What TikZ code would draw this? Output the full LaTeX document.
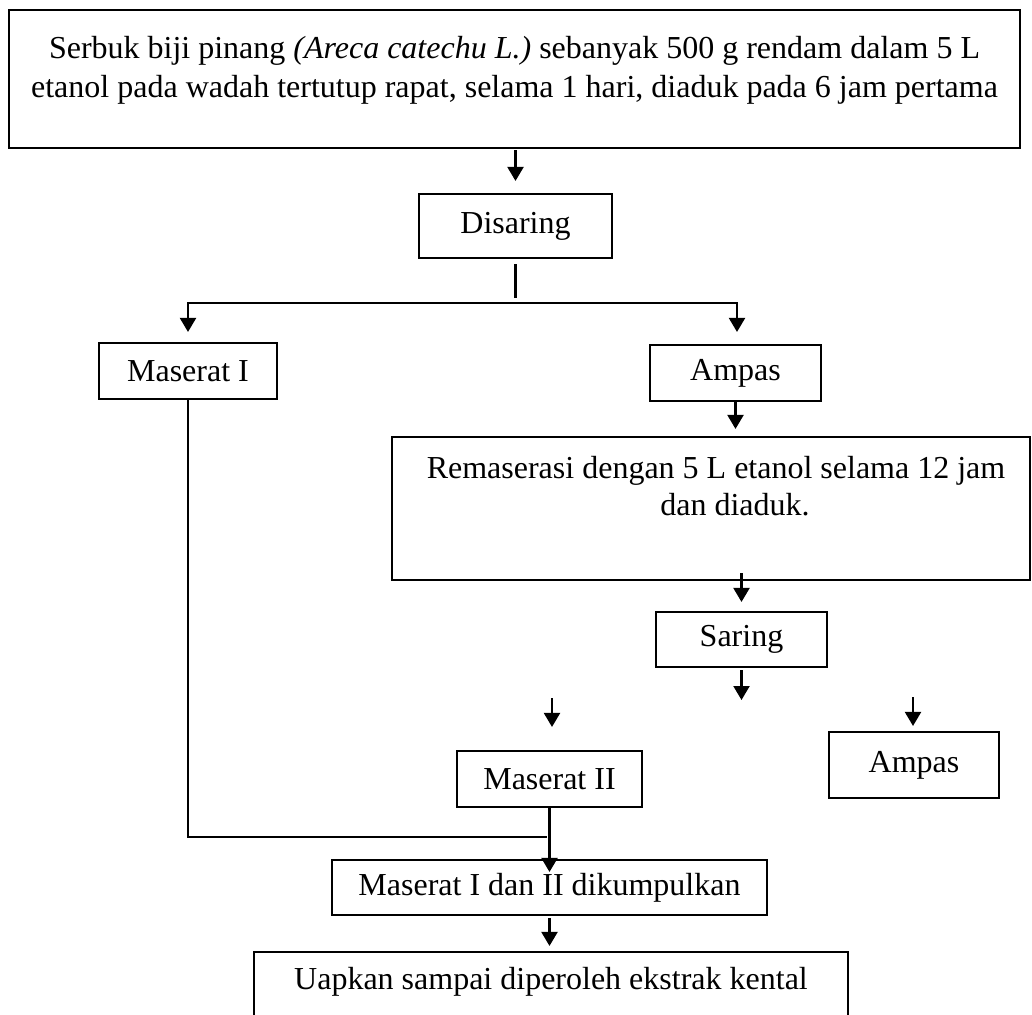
\documentclass[tikz,border=0pt]{standalone}
\usepackage{fontspec}
\setmainfont{Liberation Serif}
\usetikzlibrary{arrows.meta}
\begin{document}
\begin{tikzpicture}[x=1pt,y=-1pt,
  box/.style={draw, line width=2.1pt, rectangle, inner sep=0pt,
              font=\fontsize{32}{37}\selectfont, align=center},
  lbl/.style={font=\fontsize{32}{37}\selectfont, align=center, inner sep=0pt},
  ln/.style={line width=2.1pt},
  arr/.style={line width=2.1pt, -{Triangle[length=14pt,width=16pt]}}]
\useasboundingbox (0,0) rectangle (1032,1014);
\clip (0,0) rectangle (1032,1014);
\fill[white] (0,0) rectangle (1032,1014);

% boxes
\node[box, line width=2.6pt, minimum width=1011pt, minimum height=138pt] (top) at (514.5,79) {};
\node[lbl, font=\fontsize{32}{39}\selectfont] (toptxt) at (514.5,70) {Serbuk biji pinang \textit{(Areca catechu L.)} sebanyak 500 g rendam dalam 5 L\\etanol pada wadah tertutup rapat, selama 1 hari, diaduk pada 6 jam pertama};

\node[box, minimum width=193pt, minimum height=64pt] (dis) at (515.5,226) {Disaring};
\node[box, minimum width=178pt, minimum height=56pt] (m1) at (188,371) {Maserat I};
\node[box, minimum width=171pt, minimum height=56pt] (a1) at (735.5,373) {Ampas};

\node[box, minimum width=638pt, minimum height=143pt] (rem) at (711,508.5) {};
\node[lbl] (remtxt) at (716,486) {Remaserasi dengan 5 L etanol selama 12 jam\\\hspace*{38pt}dan diaduk.};

\node[box, minimum width=171pt, minimum height=55pt] (sar) at (741.5,639.5) {Saring};
\node[box, minimum width=170pt, minimum height=66pt] (a2) at (914,765) {Ampas};
\node[box, minimum width=185pt, minimum height=56pt] (m2) at (549.5,779) {Maserat II};
\node[box, minimum width=435pt, minimum height=55pt] (m12) at (549.5,887.5) {Maserat I dan II dikumpulkan};

\node[box, minimum width=594pt, minimum height=88pt] (up) at (551,996) {};
\node[lbl] (uptxt) at (551,982) {Uapkan sampai diperoleh ekstrak kental};

% connectors
\draw[arr, shorten <=1pt, shorten >=12pt] (dis.north |- top.south) -- (dis.north);

\coordinate (sL) at (188,303);
\coordinate (sR) at (737,303);
\draw[ln, shorten <=5pt, shorten >=5pt] (dis.south) -- (dis.south |- sL);
\draw[arr, shorten >=10pt] (sR) -- (sL) -- (m1.north);
\draw[arr, shorten >=12pt] (sL) -- (sR) -- (sR |- a1.north);

\draw[arr, shorten >=7pt] (a1.south) -- (a1.south |- rem.north);
\draw[arr, shorten <=-8pt, shorten >=9pt] (sar.north |- rem.south) -- (sar.north);

\coordinate (sarOut) at (741.5,700);
\draw[arr, shorten <=2pt] (sar.south) -- (sarOut);

\coordinate (m2In) at (552,698);
\draw[arr, shorten >=23pt] (m2In) -- (m2In |- m2.north);
\coordinate (a2In) at (913,697);
\draw[arr, shorten >=5pt] (a2In) -- (a2In |- a2.north);

\coordinate (join) at (547,837);
\draw[ln] (m1.south) -- (m1.south |- join) -- (join);
\draw[arr, shorten >=-13pt] (m2.south) -- (m12.north);
\draw[arr, shorten <=2pt, shorten >=5pt] (m12.south) -- (m12.south |- up.north);
\end{tikzpicture}
\end{document}
